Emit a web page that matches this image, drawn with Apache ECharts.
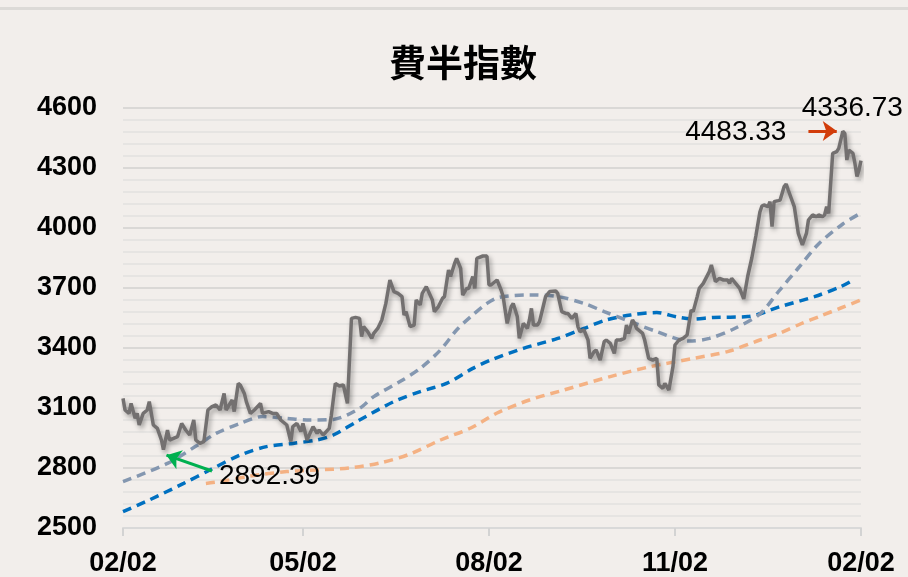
<!DOCTYPE html>
<html>
<head>
<meta charset="utf-8">
<title>費半指數</title>
<script src="https://cdn.jsdelivr.net/npm/echarts@6/dist/echarts.min.js"></script>
<style>
  html, body { margin: 0; padding: 0; background: #f2eeeb; }
  #main { width: 908px; height: 577px; }
</style>
</head>
<body>
<div id="main"></div>
<script>
// Philadelphia Semiconductor Index, one year of daily closes with moving averages.
// The x axis counts calendar days from the first session (02/02).
const startYear = 2023, startMonth = 1, startDay = 2;

const priceDays = [0,1,3,4,6,7,8,10,12,13,15,17,19,20,22,23,25,27,29,31,33,35,36,38,40,42,44,46,48,50,51,54,55,57,58,60,61,63,65,68,69,72,74,76,78,81,83,84,86,88,89,91,94,96,97,99,102,103,105,107,109,111,113,115,117,118,119,121,123,124,126,128,130,132,134,136,138,139,140,142,144,145,147,148,150,153,154,156,158,159,161,162,164,165,167,168,170,171,173,174,175,178,180,181,182,185,187,188,189,190,192,193,195,196,198,200,201,202,203,205,206,208,209,211,214,215,217,219,220,222,224,225,226,228,230,231,233,234,236,238,239,241,243,244,246,248,249,250,252,253,254,257,258,260,262,264,265,267,268,270,272,273,275,277,279,281,282,284,285,287,290,291,293,295,297,299,300,301,303,305,307,309,311,313,315,316,317,319,320,321,322,324,325,327,328,329,332,334,336,338,339,341,343,344,346,347,348,349,351,353,354,356,357,358,359,361,362,363,364,365];
const priceValues = [3148,3090,3073,3123,3048,3073,3015,3073,3090,3132,3015,2998,2940,2892.39,2990,2940,2948,2957,3023,2990,2965,3040,2940,2923,2932,3090,3107,3115,3090,3173,3090,3140,3082,3223,3215,3173,3132,3073,3090,3123,3073,3082,3073,3073,3040,3015,2932,3007,3023,2982,3023,2940,3007,2973,2990,2965,2998,3060,3223,3210,3215,3123,3548,3553,3548,3457,3507,3482,3448,3473,3498,3540,3623,3740,3682,3673,3657,3565,3582,3507,3515,3640,3615,3673,3707,3640,3582,3607,3648,3657,3790,3757,3823,3848,3798,3665,3698,3698,3757,3698,3848,3860,3860,3715,3715,3740,3690,3657,3590,3523,3607,3623,3557,3448,3523,3498,3540,3598,3515,3515,3532,3615,3657,3682,3685,3673,3582,3573,3573,3548,3573,3507,3482,3490,3440,3348,3382,3390,3340,3432,3440,3423,3373,3440,3440,3448,3515,3473,3540,3523,3498,3473,3440,3348,3340,3348,3215,3198,3223,3190,3307,3415,3440,3448,3465,3590,3582,3657,3698,3723,3782,3815,3732,3748,3740,3740,3723,3748,3723,3698,3645,3760,3850,3960,4080,4110,4115,4107,4132,4007,4132,4137,4140,4207,4220,4190,4107,3973,3915,3973,4040,4065,4057,4065,4057,4065,4107,4073,4373,4382,4398,4483.33,4473,4340,4390,4373,4323,4257,4290,4336.73];

// Short moving average (grey-blue dashed)
const maShortDays = [0,22,37,46,58,69,81,91,104,117,124,137,147,157,165,172,180,186,201,215,228,238,251,264,280,290,302,315,324,334,344,356,365];
const maShortValues = [2732,2823,2915,2973,3023,3057,3048,3040,3043,3098,3157,3232,3298,3390,3490,3557,3623,3653,3665,3657,3623,3582,3532,3482,3435,3448,3495,3570,3680,3800,3920,4020,4075];

// Medium moving average (blue dashed)
const maMidDays = [0,13,30,43,58,71,84,96,104,117,134,147,160,173,182,198,215,228,239,251,264,274,282,292,309,325,342,355,362];
const maMidValues = [2582,2640,2723,2790,2865,2907,2923,2940,2965,3040,3132,3182,3223,3298,3340,3398,3448,3498,3540,3565,3577,3555,3545,3553,3557,3607,3657,3707,3745];

// Long moving average (orange dashed)
const maLongDays = [41,48,63,81,96,112,127,142,157,172,185,201,218,241,261,282,299,315,325,335,345,355,365];
const maLongValues = [2723,2732,2760,2782,2790,2800,2825,2870,2940,3000,3075,3140,3190,3257,3307,3348,3382,3440,3475,3520,3560,3600,3640];

// Axis ticks (day offsets) and value range
const tickDays = [0, 89, 181, 273, 365];
const yMin = 2500, yMax = 4600, yStep = 300;

const titleText = '費半指數';
const lowLabel = '2892.39';
const highLabel = '4483.33';
const lastLabel = '4336.73';

function pad(n) { return (n < 10 ? '0' : '') + n; }
function dayLabel(d) {
  const dt = new Date(startYear, startMonth, startDay + Math.round(d));
  return pad(dt.getMonth() + 1) + '/' + pad(dt.getDate());
}
function pairs(days, vals) {
  return days.map((d, i) => [d, vals[i]]);
}

const labelFont = '"Liberation Sans", Arial, sans-serif';

// Annotation geometry, in axis units [day offset, index value]
const lowArrow = { from: [44, 2785], to: [21.5, 2864] };
const highArrow = { from: [339, 4485], to: [353, 4485] };
const lastLeader = { from: [359.5, 4500], to: [365.3, 4345] };

function arrowPair(a, color, width, withHead) {
  return [
    { coord: a.from, symbol: 'none',
      lineStyle: { color: color, width: width, type: 'solid' } },
    { coord: a.to, symbol: withHead ? 'arrow' : 'none', symbolSize: [15, 14] }
  ];
}

const chart = echarts.init(document.getElementById('main'));

const option = {
  animation: false,
  backgroundColor: '#f2eeeb',
  title: {
    text: titleText,
    left: 389,
    top: 44,
    padding: 0,
    textStyle: { fontFamily: '"Noto Sans CJK TC", sans-serif', fontSize: 37, fontWeight: 'bold', color: '#000' }
  },
  grid: { left: 123, right: 47, top: 108, bottom: 49 },
  xAxis: {
    type: 'value',
    min: 0,
    max: 365,
    axisLine: { show: true, lineStyle: { color: '#d9d9d9', width: 2 } },
    axisTick: { show: true, customValues: tickDays, length: 8, lineStyle: { color: '#d3d3d3', width: 2 } },
    axisLabel: {
      customValues: tickDays,
      formatter: dayLabel,
      fontSize: 27, fontWeight: 'bold', color: '#000', fontFamily: labelFont, margin: 22
    },
    splitLine: { show: false }
  },
  yAxis: {
    type: 'value',
    min: yMin, max: yMax, interval: yStep,
    axisLine: { show: false },
    axisTick: { show: false },
    axisLabel: {
      formatter: function (v) { return String(v); },
      fontSize: 27, fontWeight: 'bold', color: '#000', fontFamily: labelFont, margin: 26
    },
    splitLine: { show: true, lineStyle: { color: '#dad8d6', width: 2 } },
    minorTick: { show: false, splitNumber: 5 },
    minorSplitLine: { show: true, lineStyle: { color: '#e6e4e2', width: 2 } }
  },
  series: [
    {
      name: 'MA long', type: 'line', data: pairs(maLongDays, maLongValues),
      showSymbol: false, smooth: 0.3, z: 2,
      lineStyle: { color: '#f4b183', width: 3.5, type: [9, 6] }
    },
    {
      name: 'MA mid', type: 'line', data: pairs(maMidDays, maMidValues),
      showSymbol: false, smooth: 0.3, z: 2,
      lineStyle: { color: '#0070c0', width: 3.5, type: [9, 6] }
    },
    {
      name: 'MA short', type: 'line', data: pairs(maShortDays, maShortValues),
      showSymbol: false, smooth: 0.3, z: 2,
      lineStyle: { color: '#8497b0', width: 3.5, type: [9, 6] }
    },
    {
      name: '費半指數', type: 'line', data: pairs(priceDays, priceValues),
      showSymbol: false, z: 3,
      lineStyle: {
        color: '#737070', width: 3.5,
        shadowColor: 'rgba(0,0,0,0.35)', shadowBlur: 5, shadowOffsetX: 2, shadowOffsetY: 3
      },
      markLine: {
        silent: true,
        animation: false,
        label: { show: false },
        emphasis: { disabled: true },
        data: [
          arrowPair(lowArrow, '#00b050', 3, true),
          arrowPair(highArrow, '#d23c0a', 3, true),
          arrowPair(lastLeader, '#a6a6a6', 1, false)
        ]
      }
    }
  ],
  graphic: [
    { type: 'rect', shape: { x: 0, y: 7, width: 908, height: 3 }, style: { fill: '#dcdad7' }, silent: true }
  ]
};

chart.setOption(option);

// Value labels placed next to their arrows
function px(p) { return chart.convertToPixel({ gridIndex: 0 }, p); }
const lowTail = px(lowArrow.from);
const highTail = px(highArrow.from);
const lastTop = px(lastLeader.from);
const textStyle = { fontFamily: labelFont, fontSize: 28, fill: '#000' };

chart.setOption({
  graphic: [
    { type: 'rect', shape: { x: 0, y: 7, width: 908, height: 3 }, style: { fill: '#dcdad7' }, silent: true },
    { type: 'text', x: lowTail[0] + 7, y: lowTail[1] + 5,
      style: Object.assign({ text: lowLabel, align: 'left', verticalAlign: 'middle' }, textStyle), z: 10 },
    { type: 'text', x: highTail[0] - 22, y: highTail[1] + 1,
      style: Object.assign({ text: highLabel, align: 'right', verticalAlign: 'middle' }, textStyle), z: 10 },
    { type: 'text', x: lastTop[0] + 53, y: lastTop[1] - 20,
      style: Object.assign({ text: lastLabel, align: 'right', verticalAlign: 'middle' }, textStyle), z: 10 }
  ]
});
</script>
</body>
</html>
